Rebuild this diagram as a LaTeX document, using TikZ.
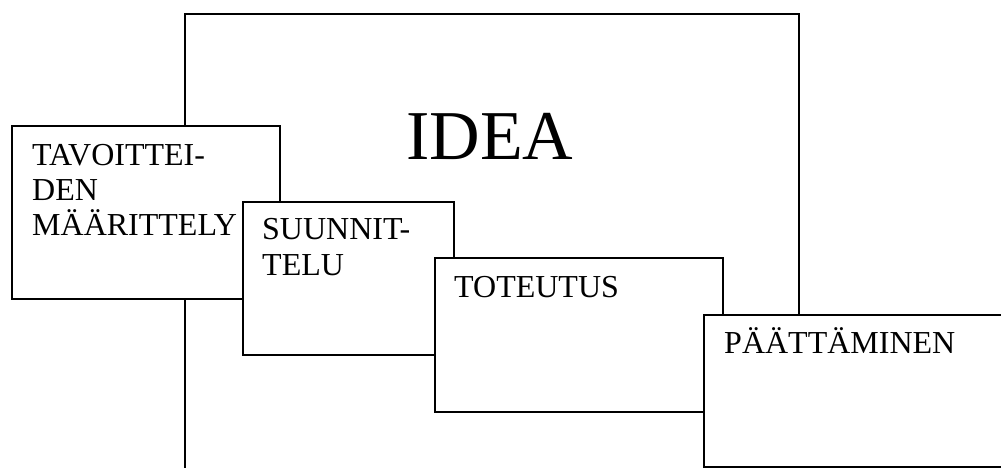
\documentclass[tikz,border=0pt]{standalone}
\usepackage{fontspec}
\setmainfont{Liberation Serif}
\begin{document}
\begin{tikzpicture}[x=1pt,y=-1pt,
  frame/.style={draw=black,line width=1.6pt,fill=white,rectangle,inner sep=0pt,anchor=north west},
  lbl/.style={anchor=base west,inner sep=0pt,font=\fontsize{32}{35}\selectfont},
  big/.style={anchor=base west,inner sep=0pt,font=\fontsize{70}{72}\selectfont}]
\useasboundingbox (0,0) rectangle (1001,468);
\clip (0,0) rectangle (1001,468);
\fill[white] (0,0) rectangle (1001,468);
% big IDEA frame (bottom outside the picture)
\node[frame,minimum width=614pt,minimum height=520pt] (idea) at (184,13) {};
\node[big] (ideatxt) at (406,160) {IDEA};
% box 1
\node[frame,minimum width=268pt,minimum height=173pt] (b1) at (11,125) {};
\node[lbl] (t1a) at (32,165) {TAVOITTEI-};
\node[lbl] (t1b) at (32,200) {DEN};
\node[lbl] (t1c) at (32,235) {MÄÄRITTELY};
% box 2
\node[frame,minimum width=211pt,minimum height=153pt] (b2) at (242,201) {};
\node[lbl] (t2a) at (262,239) {SUUNNIT-};
\node[lbl] (t2b) at (262,275) {TELU};
% box 3
\node[frame,minimum width=288pt,minimum height=154pt] (b3) at (434,257) {};
\node[lbl] (t3) at (454,297) {TOTEUTUS};
% box 4 (right edge outside the picture)
\node[frame,minimum width=320pt,minimum height=152pt] (b4) at (703,314) {};
\node[lbl] (t4) at (724,353) {PÄÄTTÄMINEN};
\end{tikzpicture}
\end{document}
